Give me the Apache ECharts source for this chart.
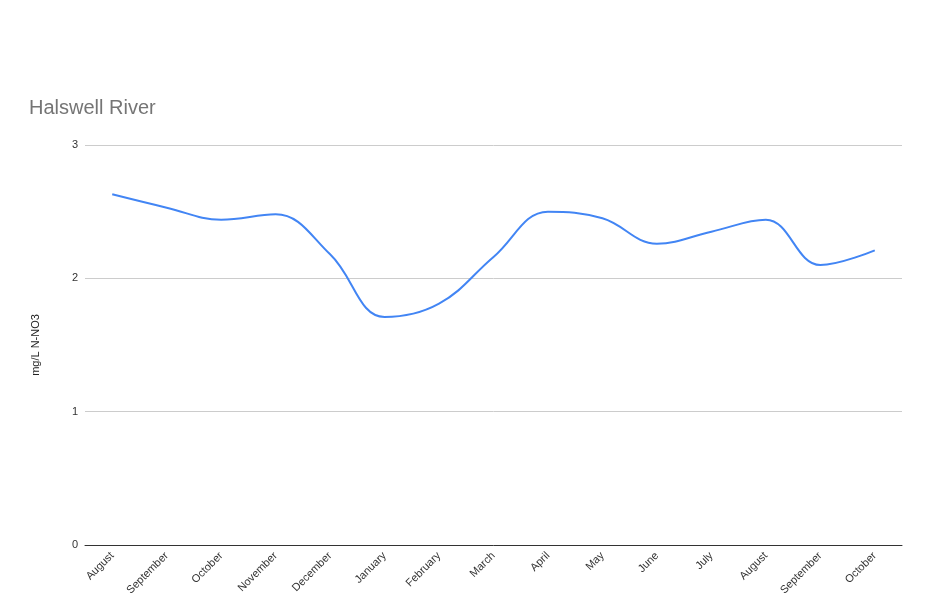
<!DOCTYPE html>
<html>
<head>
<meta charset="utf-8">
<script src="https://cdn.jsdelivr.net/npm/echarts@6/dist/echarts.min.js"></script>
<style>html,body{margin:0;padding:0;background:#fff}#c{width:935px;height:600px}</style>
</head>
<body>
<div id="c"></div>
<script>
const categories = ["August","September","October","November","December","January","February","March","April","May","June","July","August","September","October"];
const nitrateValues = [2.63, 2.53, 2.44, 2.48, 2.18, 1.71, 1.81, 2.16, 2.50, 2.45, 2.26, 2.35, 2.44, 2.10, 2.21];
const yTicks = [0, 1, 2, 3];

const chart = echarts.init(document.getElementById('c'));
chart.setOption({
  animation: false,
  title: {
    text: 'Halswell River',
    left: 29, top: 98, padding: 0,
    textStyle: { fontFamily: 'Liberation Sans, Arial', fontSize: 20, fontWeight: 'normal', color: '#757575' }
  },
  grid: { left: 85, right: 33, top: 145, bottom: 55 },
  xAxis: {
    type: 'category',
    data: categories,
    boundaryGap: true,
    axisLine: { lineStyle: { color: '#333', width: 1 } },
    axisTick: { show: false },
    axisLabel: { rotate: 45, interval: 0, margin: 9, fontFamily: 'Liberation Sans, Arial', fontSize: 11, color: '#333' }
  },
  yAxis: {
    type: 'value',
    min: yTicks[0], max: yTicks[yTicks.length - 1], interval: 1,
    name: 'mg/L N-NO3',
    nameLocation: 'middle',
    nameGap: 44,
    nameTextStyle: { fontFamily: 'Liberation Sans, Arial', fontSize: 11, color: '#222' },
    axisLine: { show: false },
    axisTick: { show: false },
    axisLabel: { margin: 7, fontFamily: 'Liberation Sans, Arial', fontSize: 11, color: '#333' },
    splitLine: { lineStyle: { color: '#cccccc' } }
  },
  series: [{
    type: 'line',
    data: nitrateValues,
    smooth: 0.4,
    showSymbol: false,
    lineStyle: { color: '#4285f4', width: 2 },
    itemStyle: { color: '#4285f4' }
  }]
});
</script>
</body>
</html>
